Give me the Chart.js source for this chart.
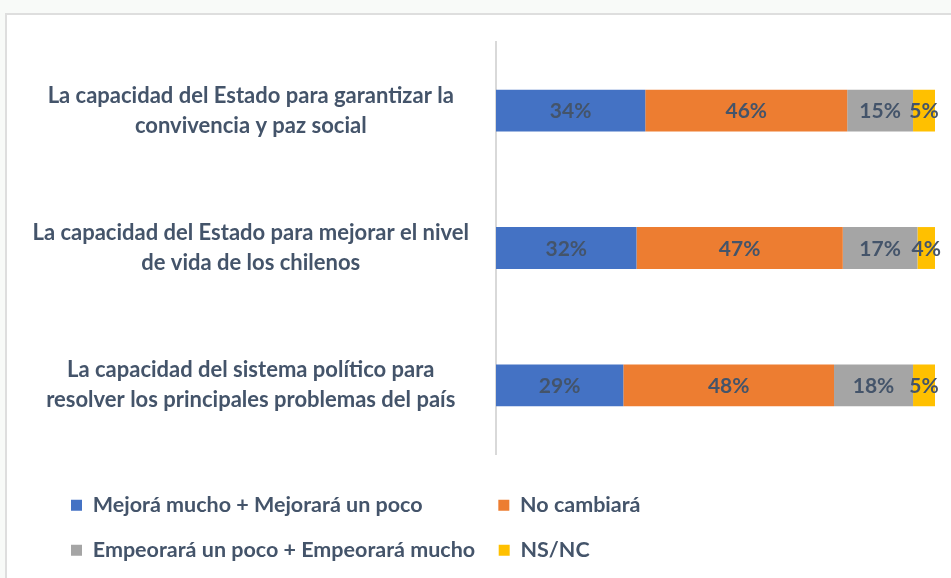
<!DOCTYPE html>
<html>
<head>
<meta charset="utf-8">
<script src="https://cdn.jsdelivr.net/npm/chart.js@4.4.1/dist/chart.umd.min.js"></script>
<style>
  html, body { margin: 0; padding: 0; width: 951px; height: 578px; overflow: hidden; background: #f8faf8; }
  #frame {
    position: absolute; left: 5px; top: 13px; width: 946px; height: 565px;
    box-sizing: border-box; background: #fff;
    border-top: 2px solid #dedede; border-left: 2px solid #dedede;
  }
  #box { position: relative; width: 944px; height: 563px; }
</style>
</head>
<body>
<div id="frame"><div id="box"><canvas id="chart"></canvas></div></div>
<script>
  // --- datos ---
  const categories = [
    ["La capacidad del Estado para garantizar la", "convivencia y paz social"],
    ["La capacidad del Estado para mejorar el nivel", "de vida de los chilenos"],
    ["La capacidad del sistema político para", "resolver los principales problemas del país"]
  ];
  const seriesNames = [
    "Mejorá mucho + Mejorará un poco",
    "No cambiará",
    "Empeorará un poco + Empeorará mucho",
    "NS/NC"
  ];
  const mejora   = [34, 32, 29];
  const noCambia = [46, 47, 48];
  const empeora  = [15, 17, 18];
  const nsnc     = [5, 4, 5];

  const colors = ["#4472C4", "#ED7D31", "#A5A5A5", "#FFC000"];
  const TEXT = "#44546A";
  const FONT = "Lato, 'Open Sans', sans-serif";

  const PAD = { left: 10, right: 16, top: 27, bottom: 7 };
  const LEG_SIZE = 21.5;   // fuente de la leyenda
  const LEG_PAD = 23.5;    // separación de la leyenda
  const LEG_BOX = 11;
  const LEG_START = 64;    // x del primer cuadro de la leyenda

  // porcentajes centrados en cada tramo
  const segmentLabels = {
    id: "segmentLabels",
    afterDatasetsDraw(chart) {
      const ctx = chart.ctx;
      ctx.save();
      ctx.font = "bold 21px " + FONT;
      ctx.fillStyle = TEXT;
      ctx.textAlign = "center";
      ctx.textBaseline = "middle";
      chart.data.datasets.forEach((ds, i) => {
        chart.getDatasetMeta(i).data.forEach((bar, j) => {
          ctx.fillText(ds.data[j] + "%", (bar.x + bar.base) / 2, bar.y + 1);
        });
      });
      ctx.restore();
    }
  };

  // rellena un texto con espacios hasta un ancho dado
  function padTo(ctx, text, target) {
    const sp = ctx.measureText(" ").width;
    while (ctx.measureText(text).width + sp <= target) text += " ";
    while (ctx.measureText(text).width < target - 0.5) text += "\u200A";
    return text;
  }

  new Chart(document.getElementById("chart"), {
    type: "bar",
    data: {
      labels: categories,
      datasets: [mejora, noCambia, empeora, nsnc].map((d, i) => ({
        label: seriesNames[i],
        data: d,
        backgroundColor: colors[i],
        borderWidth: 0,
        categoryPercentage: 1,
        barPercentage: 0.305
      }))
    },
    options: {
      indexAxis: "y",
      responsive: true,
      maintainAspectRatio: false,
      animation: false,
      layout: { padding: PAD },
      scales: {
        x: {
          stacked: true, min: 0, max: 100,
          grid: { display: false },
          border: { display: false },
          ticks: { display: false },
          afterFit(s) { s.height = 17; }
        },
        y: {
          stacked: true,
          grid: { display: false },
          border: { display: true, color: "#d9d9d9", width: 2 },
          ticks: {
            color: TEXT,
            crossAlign: "center",
            padding: 19,
            font: { family: FONT, size: 22, weight: "bold", lineHeight: 1.36 }
          },
          afterFit(s) {
            s.width = 479;
            s.paddingTop = 0;
            s.paddingBottom = 0;
          }
        }
      },
      plugins: {
        tooltip: { enabled: false },
        legend: {
          position: "bottom",
          align: "center",
          labels: {
            color: TEXT,
            font: { family: FONT, size: LEG_SIZE, weight: "bold" },
            boxWidth: LEG_BOX,
            boxHeight: LEG_BOX,
            padding: LEG_PAD,
            generateLabels(chart) {
              const items = Chart.defaults.plugins.legend.labels.generateLabels(chart);
              const ctx = chart.ctx;
              ctx.save();
              ctx.font = "bold " + LEG_SIZE + "px " + FONT;
              // dos columnas: se rellenan los textos con espacios
              const w = items.map(it => ctx.measureText(it.text).width);
              const col1 = Math.max(w[0], w[2]);
              const lineW = PAD.left + LEG_PAD + (chart.width - PAD.right) - 2 * LEG_START;
              const col2 = lineW - 2 * (LEG_BOX + LEG_SIZE / 2 + LEG_PAD) - col1;
              items.forEach((it, i) => {
                it.text = padTo(ctx, it.text, i % 2 === 0 ? col1 : col2);
              });
              ctx.restore();
              return items;
            }
          }
        }
      }
    },
    plugins: [segmentLabels]
  });
</script>
</body>
</html>
